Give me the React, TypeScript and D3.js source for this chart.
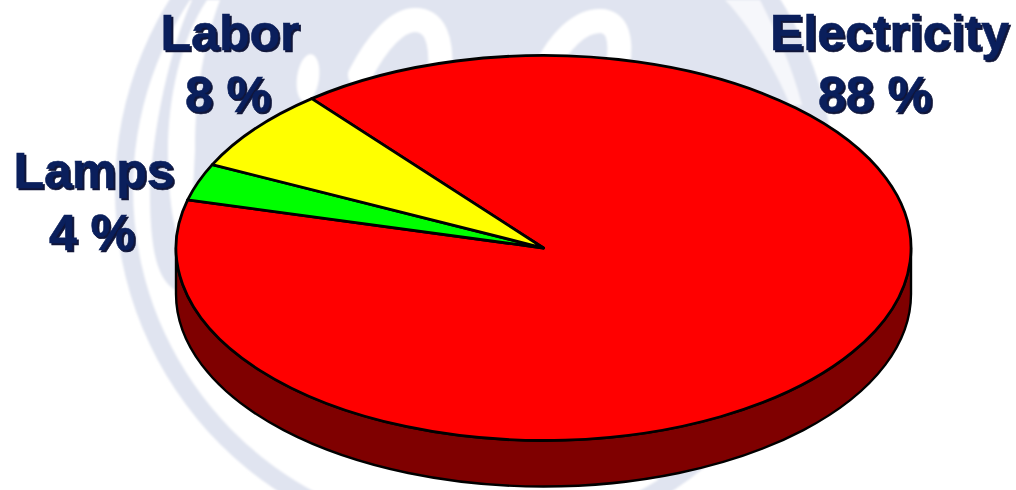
import React from "react";
import * as d3 from "d3";

// Data: label text, and the slice sizes as they were measured on the tilted pie
const categories = ["Electricity", "Lamps", "Labor"];
const labelValues = [88, 4, 8];
const drawnShares = [89.88, 3.11, 7.01];
const sliceColors = ["#ff0000", "#00ff00", "#ffff00"];

// Layout
const W = 1016, H = 490;
const cx = 543.5, cy = 248, rx = 367.5, ry = 192.5, depth = 46;
const startDeg = -39.1;
const labelPos = [
  { nameX: 889.5, valueX: 875, nameY: 50, valueY: 112 },
  { nameX: 94, valueX: 92, nameY: 188, valueY: 250 },
  { nameX: 230, valueX: 228, nameY: 50, valueY: 112 },
];
const INK = "#0a1f5c", SHADOW = "#10163a";
const WM = "#e0e4f0";
const FONT = "'Liberation Sans', Arial, sans-serif";

const UNIT = 100;
const pie = d3.pie<number>().sort(null).startAngle((startDeg * Math.PI) / 180)
  .endAngle(((startDeg + 360) * Math.PI) / 180);
const arc = d3.arc<d3.PieArcDatum<number>>().innerRadius(0).outerRadius(UNIT);

function Watermark() {
  return (
    <g filter="url(#soft)">
      <circle cx={475} cy={190} r={360} fill={WM} />
      {/* gap between the two rings, opening into the white lower interior */}
      <path fill="#ffffff"
        d="M 190 0 A 343 343 0 0 0 658 480 L 600 300 L 300 260 L 175 290 C 160 280 151 260 150 200 C 150 150 165 60 192 0 Z" />
      {/* crescent inside the second ring */}
      <path fill="#ffffff"
        d="M 207 0 C 180 40 168 100 168 150 C 168 200 175 250 190 250 L 195 150 C 195 90 205 40 220 0 Z" />
      {/* stripe on the right side */}
      <path fill="#ffffff" opacity={0.7}
        d="M 725 0 L 760 0 C 775 30 792 65 802 105 L 790 105 C 778 75 750 25 725 0 Z" />
      {/* script strokes */}
      <ellipse cx={308} cy={78} rx={11} ry={24} fill="#ffffff" transform="rotate(8 308 78)" />
      <path d="M 360 75 C 378 40 398 20 415 20 C 435 20 442 40 440 70" fill="none" stroke="#ffffff" strokeWidth={24} strokeLinecap="round" />
      <path d="M 545 70 C 560 40 580 21 600 21 C 618 21 622 40 618 65" fill="none" stroke="#ffffff" strokeWidth={24} strokeLinecap="round" />
    </g>
  );
}

function Label({ text, x, y }: { text: string; x: number; y: number }) {
  const common = {
    textAnchor: "middle" as const, fontFamily: FONT, fontWeight: 700, fontSize: 50,
  };
  return (
    <g>
      <text x={x + 2} y={y + 2} fill={SHADOW} stroke={SHADOW} strokeWidth={0.6} {...common}>{text}</text>
      <text x={x} y={y} fill={INK} stroke={INK} strokeWidth={0.6} {...common}>{text}</text>
    </g>
  );
}

export default function App() {
  const slices = pie(drawnShares);
  const wall =
    `M ${cx - rx} ${cy} L ${cx - rx} ${cy + depth} ` +
    `A ${rx} ${ry} 0 0 0 ${cx + rx} ${cy + depth} L ${cx + rx} ${cy} ` +
    `A ${rx} ${ry} 0 0 1 ${cx - rx} ${cy} Z`;
  return (
    <svg width={W} height={H} viewBox={`0 0 ${W} ${H}`}
      style={{ position: "absolute", left: 0, top: 0, display: "block", background: "#fff" }}>
      <defs>
        <filter id="soft" x="-5%" y="-5%" width="110%" height="110%">
          <feGaussianBlur stdDeviation={1.3} />
        </filter>
      </defs>
      <Watermark />
      <path d={wall} fill="#7f0000" stroke="#000" strokeWidth={2.4} strokeLinejoin="round" />
      <g transform={`translate(${cx},${cy}) scale(${rx / UNIT},${ry / UNIT})`}>
        {slices.map((s, i) => (
          <path key={categories[i]} d={arc(s) ?? ""} fill={sliceColors[i]} stroke="#000"
            strokeWidth={2.8} strokeLinejoin="round" vectorEffect="non-scaling-stroke" />
        ))}
      </g>
      {categories.map((name, i) => (
        <g key={name}>
          <Label text={name} x={labelPos[i].nameX} y={labelPos[i].nameY} />
          <Label text={`${labelValues[i]} %`} x={labelPos[i].valueX} y={labelPos[i].valueY} />
        </g>
      ))}
    </svg>
  );
}
